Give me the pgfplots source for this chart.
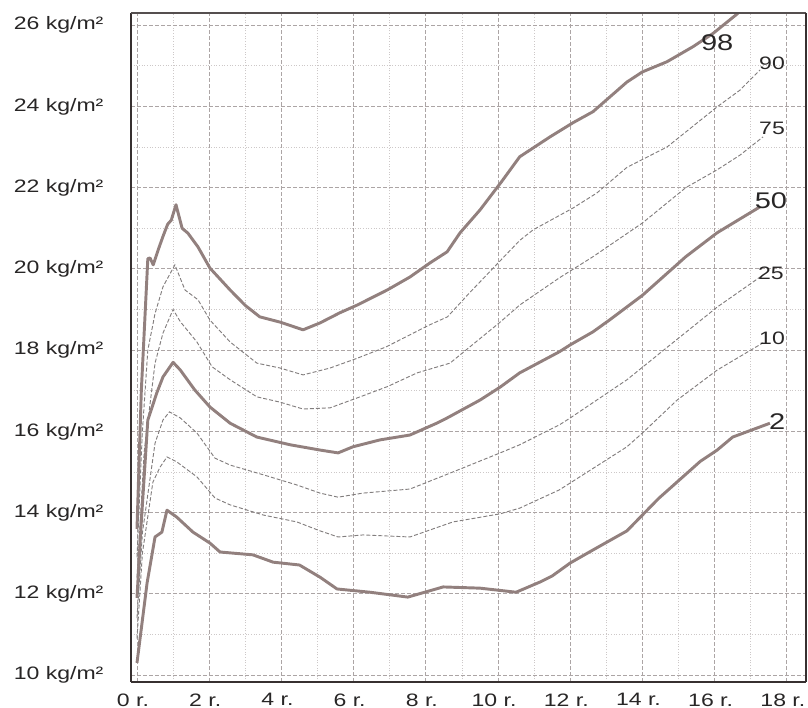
\documentclass[border=0pt]{standalone}
\usepackage{fontspec}
\setmainfont{Liberation Sans}[FakeStretch=1.28]
\usepackage{pgfplots}
\usepackage{pgfplotstable}
\pgfplotsset{compat=1.18}

\definecolor{thickc}{RGB}{146,128,126}
\definecolor{thinc}{RGB}{130,126,126}
\definecolor{gridc}{RGB}{172,165,165}
\definecolor{minorc}{RGB}{205,200,200}
\definecolor{axisc}{RGB}{55,48,48}
\definecolor{labc}{RGB}{40,38,38}

% centyle BMI (wiek w latach, kg/m2)
\pgfplotstableread{
x y
0 13.6
0.12 17.0
0.3 20.25
0.36 20.27
0.45 20.1
0.6 20.5
0.72 20.8
0.85 21.1
0.95 21.2
1.08 21.58
1.25 21.0
1.41 20.88
1.69 20.54
2.02 20.02
2.58 19.48
3.0 19.1
3.4 18.82
3.96 18.69
4.6 18.5
5.07 18.67
5.62 18.92
6.1 19.11
6.93 19.48
7.56 19.8
8.12 20.15
8.59 20.42
8.95 20.89
9.5 21.45
10.1 22.15
10.6 22.76
11.44 23.25
12.08 23.6
12.63 23.87
13.57 24.6
14.0 24.85
14.68 25.1
15.4 25.47
15.96 25.8
16.6 26.26
17.0 26.6
}\pA

\pgfplotstableread{
x y
0 12.9
0.15 16.0
0.3 18.0
0.5 18.9
0.72 19.56
1.05 20.1
1.33 19.48
1.69 19.24
2.02 18.74
2.58 18.2
3.32 17.68
3.96 17.56
4.6 17.39
5.35 17.56
6.1 17.8
6.9 18.08
8.1 18.62
8.6 18.82
9.2 19.4
10.06 20.2
10.6 20.7
10.97 20.96
12.08 21.5
12.74 21.87
13.57 22.5
14.68 23.0
16.07 23.99
16.7 24.4
17.26 24.9
}\pB

\pgfplotstableread{
x y
0 12.4
0.2 15.5
0.5 17.68
0.72 18.42
1.0 19.0
1.2 18.7
1.66 18.2
2.08 17.59
2.58 17.27
3.32 16.85
3.96 16.72
4.6 16.55
5.35 16.58
6.18 16.85
6.93 17.1
7.76 17.44
8.67 17.68
9.22 18.08
10.06 18.69
10.6 19.11
11.7 19.78
12.63 20.3
14.0 21.13
15.2 22.0
16.07 22.44
16.7 22.8
17.34 23.25
}\pC

\pgfplotstableread{
x y
0 11.9
0.1 13.5
0.3 16.28
0.55 16.95
0.72 17.34
1.0 17.7
1.2 17.51
1.6 17.02
2.02 16.6
2.58 16.2
3.32 15.86
4.24 15.67
5.07 15.54
5.57 15.47
5.98 15.62
6.73 15.79
7.56 15.91
8.3 16.2
8.59 16.33
9.5 16.77
10.06 17.09
10.6 17.44
11.7 17.96
12.0 18.13
12.63 18.45
13.1 18.75
14.0 19.35
15.2 20.3
16.07 20.89
17.26 21.53
}\pD

\pgfplotstableread{
x y
0 11.4
0.15 13.5
0.5 15.71
0.72 16.28
0.9 16.48
1.2 16.33
1.66 15.96
2.16 15.34
2.58 15.17
3.5 14.93
4.43 14.68
5.07 14.48
5.57 14.38
6.26 14.48
7.56 14.58
8.75 15.0
10.06 15.47
10.6 15.67
11.7 16.16
12.0 16.33
13.57 17.27
14.49 17.93
16.07 19.06
17.26 19.8
}\pE

\pgfplotstableread{
x y
0 10.9
0.15 13.0
0.44 14.75
0.64 15.12
0.83 15.37
1.1 15.25
1.66 14.88
2.16 14.36
2.58 14.19
3.5 13.94
4.43 13.77
5.07 13.55
5.57 13.4
6.26 13.45
7.56 13.4
8.75 13.77
10.06 13.97
10.6 14.11
11.7 14.56
12.0 14.73
13.57 15.62
14.0 15.96
14.96 16.77
16.07 17.51
17.34 18.18
}\pF

\pgfplotstableread{
x y
0 10.3
0.28 12.27
0.5 13.4
0.69 13.52
0.83 14.06
1.1 13.89
1.55 13.52
2.02 13.25
2.3 13.03
3.21 12.96
3.77 12.78
4.5 12.71
5.07 12.41
5.54 12.12
6.45 12.04
7.5 11.92
8.48 12.17
9.5 12.14
10.5 12.04
11.16 12.29
11.5 12.44
12.0 12.76
12.63 13.08
13.57 13.55
14.45 14.35
15.6 15.26
16.07 15.54
16.5 15.86
17.53 16.2
}\pG

\begin{document}
\begin{tikzpicture}
\begin{axis}[
    name=ax,
    scale only axis,
    width=506.25pt, height=501.75pt,
    xmin=-0.166, xmax=18.53,
    ymin=9.83, ymax=26.3,
    xtick={0,2,...,18},
    xticklabels={0 r.,2 r.,4 r.,6 r.,8 r.,10 r.,12 r.,14 r.,16 r.,18 r.},
    ytick={10,12,...,26},
    yticklabels={10 kg/m²,12 kg/m²,14 kg/m²,16 kg/m²,18 kg/m²,20 kg/m²,22 kg/m²,24 kg/m²,26 kg/m²},
    minor xtick={1,3,...,17},
    minor ytick={11,13,...,25},
    grid=both,
    major grid style={gridc, line width=0.6pt, dash pattern=on 3pt off 1.5pt},
    minor grid style={minorc, line width=0.6pt, dash pattern=on 0.8pt off 1.2pt},
    major tick length=0pt, minor tick length=0pt,
    axis line style={draw=none},
    tick label style={font=\fontsize{13.5}{15}\selectfont, text=labc},
    yticklabel style={anchor=east, inner sep=0pt, xshift=-20.5pt},
    xticklabel style={anchor=north, inner sep=0pt, yshift=-8.5pt, xshift=-3pt},
    clip mode=individual,
]
\addplot[thickc, line width=2.2pt, line join=round] table {\pA};
\addplot[thinc, line width=0.7pt, dash pattern=on 3pt off 1.5pt] table {\pB};
\addplot[thinc, line width=0.7pt, dash pattern=on 3pt off 1.5pt] table {\pC};
\addplot[thickc, line width=2.2pt, line join=round] table {\pD};
\addplot[thinc, line width=0.7pt, dash pattern=on 3pt off 1.5pt] table {\pE};
\addplot[thinc, line width=0.7pt, dash pattern=on 3pt off 1.5pt] table {\pF};
\addplot[thickc, line width=2.2pt, line join=round] table {\pG};

% ramka
\draw[axisc, line width=2.2pt] (rel axis cs:0,0) -- (rel axis cs:0,1);
\draw[axisc, line width=2pt] (rel axis cs:0,0) -- (rel axis cs:1,0);
\draw[axisc!85, line width=1pt] (rel axis cs:0,1) -- (rel axis cs:1,1);
\draw[axisc, line width=1.5pt] (rel axis cs:1,0) -- (rel axis cs:1,1);

% opisy centyli
\begin{scope}[every node/.style={text=labc, inner sep=0pt}]
\node[font=\fontsize{17}{19}\selectfont] at (axis cs:16.07,25.57) {98};
\node[font=\fontsize{13.5}{15}\selectfont] at (axis cs:17.59,25.07) {90};
\node[font=\fontsize{13.5}{15}\selectfont] at (axis cs:17.59,23.47) {75};
\node[font=\fontsize{17}{19}\selectfont] at (axis cs:17.56,21.67) {50};
\node[font=\fontsize{13.5}{15}\selectfont] at (axis cs:17.56,19.9) {25};
\node[font=\fontsize{13.5}{15}\selectfont] at (axis cs:17.59,18.3) {10};
\node[font=\fontsize{17}{19}\selectfont] at (axis cs:17.73,16.23) {2};
\end{scope}
\end{axis}
\pgfresetboundingbox
\path[use as bounding box] ([xshift=-98.25pt,yshift=-19.5pt]ax.south west) rectangle ([xshift=1.5pt,yshift=9.75pt]ax.north east);
\end{tikzpicture}
\end{document}
